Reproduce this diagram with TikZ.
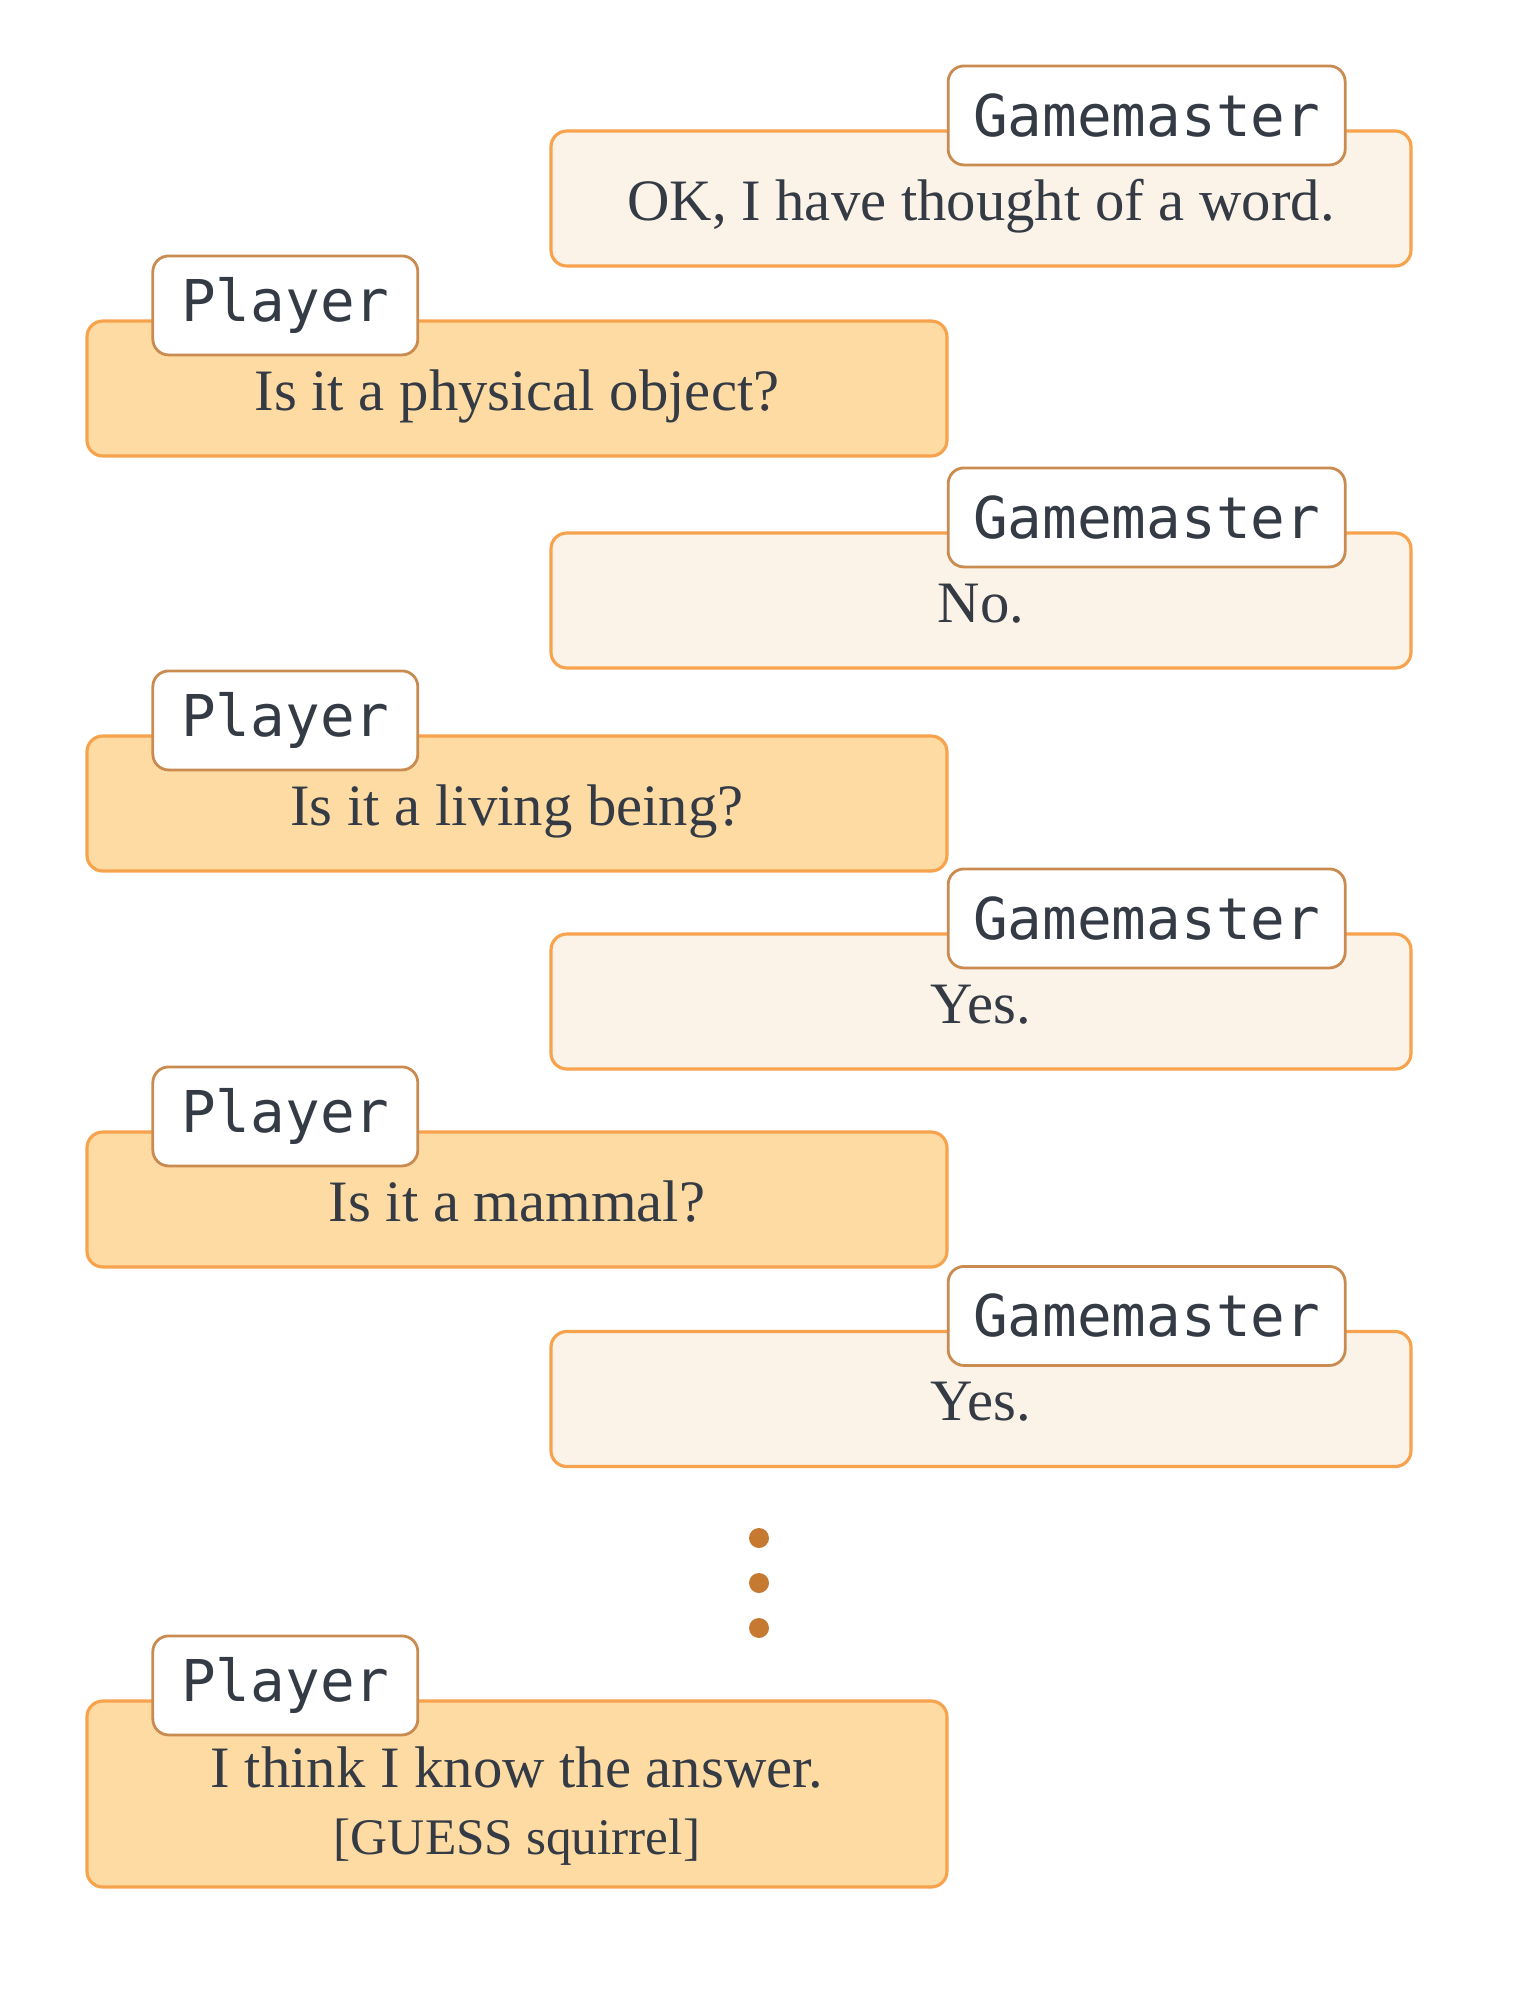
\documentclass[tikz,border=0pt]{standalone}
\usepackage{fontspec}
\setmainfont{Liberation Serif}
\setmonofont{DejaVu Sans Mono}
\usepackage{tikz}
\usetikzlibrary{positioning}
\definecolor{gmfill}{HTML}{FBF3E7}
\definecolor{plfill}{HTML}{FDDBA3}
\definecolor{boxline}{HTML}{F7A24C}
\definecolor{tagline}{HTML}{C98B50}
\definecolor{ink}{HTML}{343B45}
\definecolor{dotcol}{HTML}{C67A31}

\begin{document}
\begin{tikzpicture}[
        msgbox/.style={draw=boxline, line width=0.9pt, rounded corners=4.5pt,
            minimum width=8.6cm, minimum height=1.35cm, text=ink, align=center,
            text height=0.53cm, text depth=0.1cm,
            font=\fontsize{16.7}{19}\selectfont},
        gmbox/.style={msgbox, fill=gmfill},
        plbox/.style={msgbox, fill=plfill},
        speaker/.style={draw=tagline, line width=0.8pt, fill=white, rounded corners=4.5pt,
            minimum height=0.99cm, minimum width=2.65cm, inner xsep=0.25cm, text=ink,
            font=\ttfamily\fontsize{16.4}{18}\selectfont}]
        \useasboundingbox (0,0) rectangle (15.2,-19.99);
        % gamemaster answers sit right, player questions left
        \node[gmbox] (gm1) at (9.81,-1.985) {OK, I have thought of a word.};
        \node[speaker, anchor=east] (gm1tag) at ([xshift=-0.66cm, yshift=0.14cm]gm1.north east) {Gamemaster};
        \node[plbox] (pl1) at (5.17,-3.885) {Is it a physical object?};
        \node[speaker, anchor=west] (pl1tag) at ([xshift=0.66cm, yshift=0.14cm]pl1.north west) {Player};
        \node[gmbox] (gm2) at (9.81,-6.005) {No.};
        \node[speaker, anchor=east] (gm2tag) at ([xshift=-0.66cm, yshift=0.14cm]gm2.north east) {Gamemaster};
        \node[plbox] (pl2) at (5.17,-8.035) {Is it a living being?};
        \node[speaker, anchor=west] (pl2tag) at ([xshift=0.66cm, yshift=0.14cm]pl2.north west) {Player};
        \node[gmbox] (gm3) at (9.81,-10.015) {Yes.};
        \node[speaker, anchor=east] (gm3tag) at ([xshift=-0.66cm, yshift=0.14cm]gm3.north east) {Gamemaster};
        \node[plbox] (pl3) at (5.17,-11.995) {Is it a mammal?};
        \node[speaker, anchor=west] (pl3tag) at ([xshift=0.66cm, yshift=0.14cm]pl3.north west) {Player};
        \node[gmbox] (gm4) at (9.81,-13.99) {Yes.};
        \node[speaker, anchor=east] (gm4tag) at ([xshift=-0.66cm, yshift=0.14cm]gm4.north east) {Gamemaster};
        \foreach \y in {15.38,15.83,16.28}
            \fill[dotcol] (7.59,-\y) circle (0.1);
        \node[plbox, minimum height=1.86cm, text height=1.3cm, text depth=0.1cm] (pl4) at (5.17,-17.94)
            {I think I know the answer.\\
            {\fontsize{14.6}{17.5}\selectfont [GUESS squirrel]}};
        \node[speaker, anchor=west] (pl4tag) at ([xshift=0.66cm, yshift=0.14cm]pl4.north west) {Player};
\end{tikzpicture}
\end{document}
